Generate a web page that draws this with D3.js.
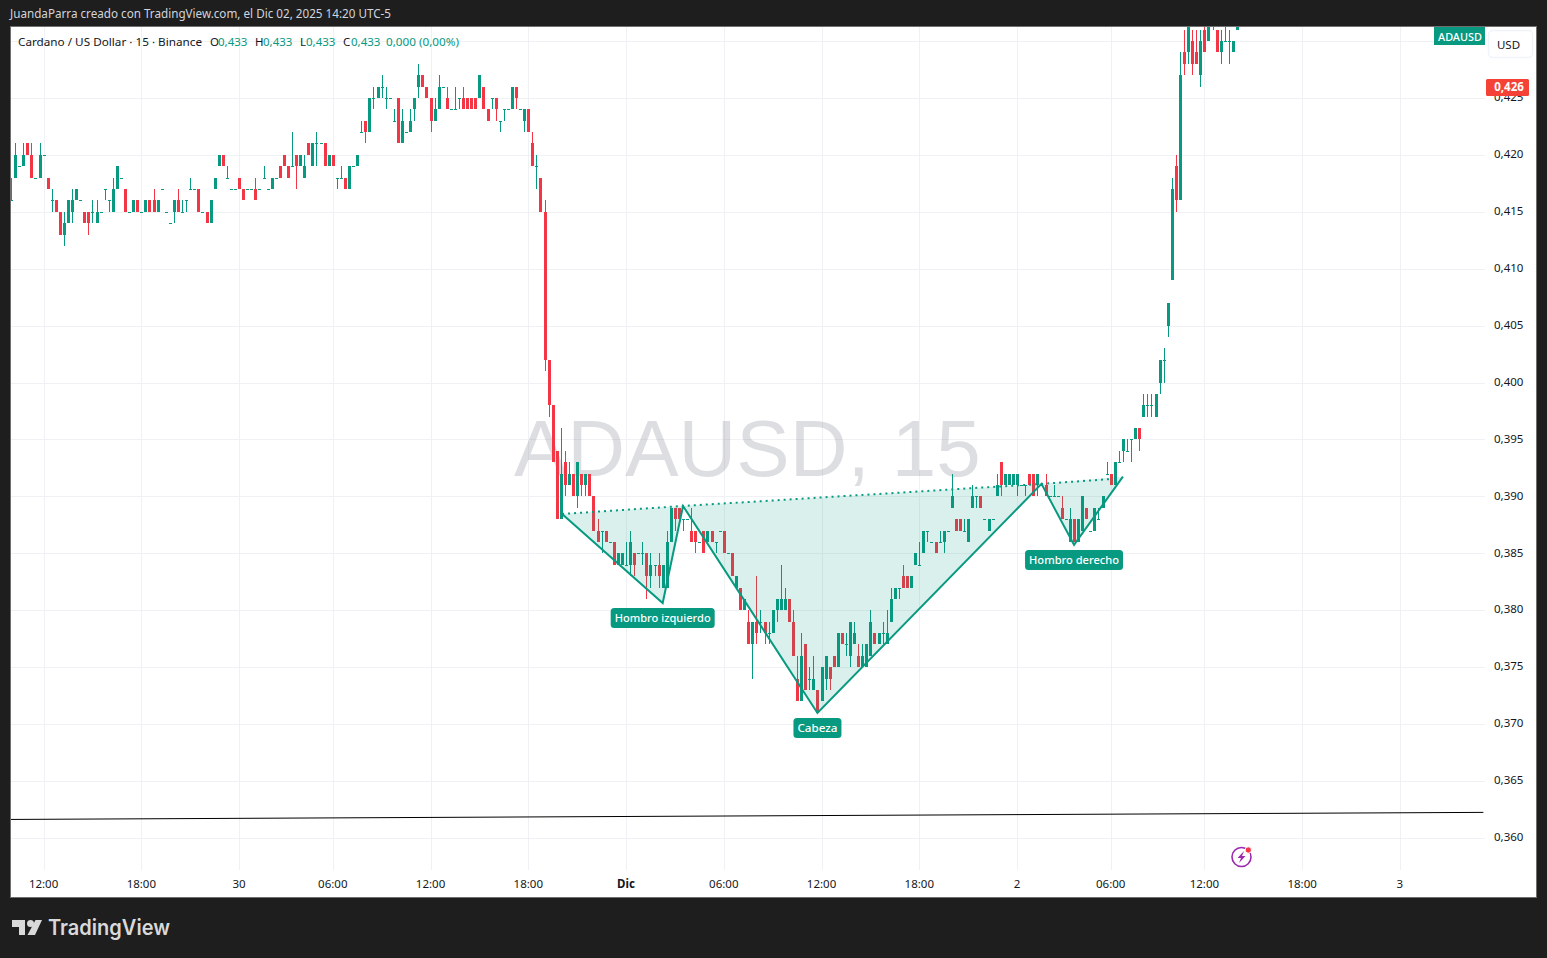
<!DOCTYPE html>
<html><head><meta charset="utf-8">
<script src="https://cdn.jsdelivr.net/npm/d3@7/dist/d3.min.js"></script>
<style>html,body{margin:0;padding:0;background:#1e1e1e;overflow:hidden}svg{display:block}text{font-family:"Noto Sans",sans-serif}</style>
</head><body><svg id="c" width="1547" height="958"></svg>
<script>
// Prices in thousandths of a dollar, one entry per 15-minute bar
const opens=[416,418,419,419,421,420,418,418,420,418,416,416,415,413,414,415,416,416,415,415,
415,414,415,417,416,415,417,418,417,415,415,416,415,415,416,416,415,417,415,414,
415,416,415,416,417,417,417,415,415,414,417,419,420,418,417,417,418,417,417,417,
417,417,418,417,417,418,419,420,419,419,420,419,418,421,419,421,421,421,419,420,
418,418,418,417,419,419,422,423,422,425,425,426,425,425,423,425,421,422,422,424,
426,427,426,425,423,424,426,425,424,424,425,425,425,425,425,425,426,424,425,425,
423,424,424,424,426,424,423,424,421,419,418,415,402,398,394,388,393,391,392,390,
392,391,392,390,387,387,387,386,386,384,384,384,384,385,385,385,385,383,384,384,
382,382,386,389,389,388,388,387,387,386,387,386,387,386,387,387,385,385,382,382,
380,379,377,379,379,379,378,378,380,380,380,381,379,374,372,377,374,373,373,372,
374,375,376,375,378,377,376,377,376,375,375,376,378,377,378,377,379,381,382,383,
383,382,384,384,385,387,386,386,386,386,387,389,388,388,387,386,389,390,390,388,
387,388,390,393,391,391,391,391,391,391,392,392,391,391,391,390,390,390,389,388,
386,388,386,387,389,387,387,388,389,392,392,391,393,394,394,395,395,396,397,398,
398,397,400,402,405,409,419,416,429,429,430,429,427,431,430,433,431,429,430,430,
429,431];
const highs=[418,421,419,421,421,421,418,421,420,418,417,416,415,415,416,417,417,416,415,415,
416,416,415,417,416,418,419,418,417,415,416,416,415,416,416,417,416,417,415,414,
416,417,416,416,418,417,417,415,415,416,418,420,420,419,417,417,418,417,417,417,
418,417,419,417,418,418,419,420,419,422,420,420,420,421,421,422,421,421,420,420,
418,419,418,419,419,420,423,423,425,426,426,427,426,425,424,425,424,422,424,425,
428,427,426,425,425,427,426,426,424,426,425,426,425,425,425,427,426,424,425,425,
423,424,424,426,426,424,424,424,422,420,418,416,402,398,394,396,394,393,392,393,
392,392,392,390,388,387,387,386,386,385,385,386,387,385,385,386,385,385,384,385,
384,387,389,389,389,388,388,389,387,386,387,387,387,386,387,387,385,385,383,382,
381,380,379,383,380,379,379,380,381,384,382,381,380,376,378,377,375,376,373,375,
376,375,376,378,378,378,379,379,377,377,377,380,378,378,379,380,382,382,382,384,
383,383,385,386,387,387,386,386,387,387,387,392,388,388,388,388,391,390,390,388,
388,388,392,393,392,392,392,392,391,391,392,392,392,391,392,390,391,390,390,388,
389,388,388,390,389,387,389,389,390,393,392,393,394,395,395,395,396,396,399,399,
399,399,402,403,407,418,420,429,431,432,431,431,431,432,432,433,431,431,432,431,
430,433];
const lows=[416,418,419,419,420,418,418,418,420,417,415,415,413,412,414,414,416,416,414,413,
414,414,415,416,415,415,417,418,415,415,415,415,415,415,415,415,415,417,415,414,
414,415,415,415,417,417,415,415,414,414,417,419,419,418,417,417,417,416,417,417,
416,417,418,417,417,418,418,419,418,419,417,419,418,420,419,419,421,419,419,419,
417,418,417,417,419,419,422,421,422,424,425,425,424,425,423,421,421,422,422,423,
425,426,425,422,423,424,426,424,424,424,424,424,424,424,424,425,424,423,424,423,
422,423,424,424,424,424,422,422,419,417,415,401,397,393,388,388,390,391,390,389,
390,390,390,387,386,385,386,386,384,384,384,384,383,383,385,384,381,382,383,382,
382,382,386,387,388,387,388,386,385,386,385,386,386,385,387,385,385,383,382,380,
380,377,374,377,378,377,377,378,379,380,380,379,376,372,372,373,373,373,371,372,
373,373,375,375,377,376,375,377,375,375,375,376,377,377,377,377,379,381,381,382,
382,382,384,384,385,386,386,385,386,385,387,389,387,387,387,386,389,389,389,388,
387,388,390,390,391,391,391,390,391,390,391,390,390,391,390,390,390,390,388,388,
386,386,386,387,388,387,387,388,389,392,391,391,393,393,394,393,395,394,397,397,
397,397,399,400,404,409,415,416,427,428,427,428,426,429,430,431,429,428,430,428,
429,431];
const closes=[416,420,419,420,420,418,418,420,420,417,416,415,413,414,416,416,417,416,414,414,
415,415,415,417,416,417,419,418,415,415,416,415,415,416,415,415,416,417,415,414,
416,415,415,416,417,417,415,415,414,416,418,420,419,418,417,417,417,416,417,417,
416,417,418,417,418,418,418,419,418,419,419,420,419,420,421,421,421,419,420,419,
418,418,417,419,419,420,422,422,425,425,426,426,425,425,423,421,423,422,423,425,
427,426,425,423,424,426,426,424,424,424,425,424,424,424,424,427,424,423,425,424,
423,424,424,426,425,424,424,422,419,419,415,402,398,393,388,392,391,392,390,393,
391,392,390,387,386,387,386,386,384,385,385,384,386,384,385,385,383,384,384,383,
384,386,389,388,388,388,388,386,386,386,385,387,386,386,387,385,385,383,383,380,
381,377,379,378,379,378,378,380,381,381,381,379,376,372,376,373,374,374,371,375,
376,374,375,378,377,377,379,378,375,376,377,379,377,378,378,378,381,382,382,382,
382,383,385,384,387,387,386,385,386,387,387,390,387,387,387,388,390,390,389,388,
388,388,391,391,392,392,392,392,391,391,391,390,392,391,390,390,390,390,388,388,
388,386,388,390,388,387,389,388,390,392,391,393,393,395,394,395,396,395,398,398,
398,399,402,402,407,417,416,427,428,432,428,428,430,429,432,432,429,430,430,430,
430,433];

const priceTicks=[0.425,0.42,0.415,0.41,0.405,0.4,0.395,0.39,0.385,0.38,0.375,0.37,0.365,0.36];
const gridPrices=[0.43,...priceTicks];
const timeTickBars=[8,32,56,79,103,127,151,175,199,223,247,270,293,317,341];
const timeTickLabels=["12:00","18:00","30","06:00","12:00","18:00","Dic","06:00","12:00","18:00","2","06:00","12:00","18:00","3"];
// Head-and-shoulders drawing anchors: [bar, price]
const patternBars=[135.3,160,165,198,253,261,273];
const patternPrices=[0.38846,0.38064,0.38916,0.37098,0.3911,0.38574,0.39174];
const necklineEndBar=270.5, necklineEndPrice=0.39154;
const patternLabels=[[1,"Hombro izquierdo"],[3,"Cabeza"],[5,"Hombro derecho"]];
const blackLineBars=[-0.2,361.5];
const blackLinePrices=[0.36163,0.36225];
const lastPrice=0.426;

const GREEN="#089981",RED="#F23645",GRID="#f0f1f4",TEXT="#131722";
const L=11,R=1485,T=27,B=897,AXB=870;
const labelW={"Hombro izquierdo":[96,104],"Cabeza":[40,48],"Hombro derecho":[90,98]};
const x=d3.scaleLinear().domain([0,1]).range([11,15.073]);
const y=d3.scaleLinear().domain([0.36,0.43]).range([838,41]);
const num=v=>v.toFixed(3).replace(".",",");
const svg=d3.select("#c");

// frame
svg.append("rect").attr("x",10.5).attr("y",26.5).attr("width",1526).attr("height",871).attr("fill","#fff").attr("stroke","#6f6f6f");
svg.append("text").attr("x",10).attr("y",18).attr("fill","#d1d4dc").attr("font-size",12)
  .attr("textLength",381).attr("lengthAdjust","spacingAndGlyphs")
  .text("JuandaParra creado con TradingView.com, el Dic 02, 2025 14:20 UTC-5");

// clip
const defs=svg.append("defs");
defs.append("clipPath").attr("id","pane").append("rect").attr("x",L).attr("y",T).attr("width",R-L).attr("height",B-T);
const pane=svg.append("g").attr("clip-path","url(#pane)");

// grid
pane.append("g").selectAll("line").data(gridPrices).join("line")
  .attr("x1",L).attr("x2",R).attr("y1",d=>Math.round(y(d))+.5).attr("y2",d=>Math.round(y(d))+.5)
  .attr("stroke",GRID);
pane.append("g").selectAll("line").data(timeTickBars).join("line")
  .attr("y1",T).attr("y2",AXB).attr("x1",d=>Math.round(x(d))+.5).attr("x2",d=>Math.round(x(d))+.5)
  .attr("stroke",GRID);

// watermark
pane.append("text").attr("x",514).attr("y",476).attr("font-size",80)
  .style("font-family","'Liberation Sans',Arial,sans-serif").attr("fill","rgba(120,123,134,0.25)").text("ADAUSD, 15");

// candles
const idx=d3.range(opens.length);
const px=v=>y(v/1000);
const col=i=>closes[i]>=opens[i]?GREEN:RED;
const cg=pane.append("g").attr("shape-rendering","crispEdges");
cg.selectAll(".w").data(idx).join("rect").attr("class","w")
  .attr("x",i=>Math.round(x(i))).attr("width",1)
  .attr("y",i=>Math.round(px(highs[i])))
  .attr("height",i=>Math.max(1,Math.round(px(lows[i]))-Math.round(px(highs[i]))))
  .attr("fill",col);
cg.selectAll(".b").data(idx).join("rect").attr("class","b")
  .attr("x",i=>Math.round(x(i))-1).attr("width",3)
  .attr("y",i=>Math.round(px(Math.max(opens[i],closes[i]))))
  .attr("height",i=>Math.max(1,Math.round(px(Math.min(opens[i],closes[i])))-Math.round(px(Math.max(opens[i],closes[i])))))
  .attr("fill",col);

// black trend line
pane.append("line").attr("x1",x(blackLineBars[0])).attr("x2",x(blackLineBars[1]))
  .attr("y1",y(blackLinePrices[0])).attr("y2",y(blackLinePrices[1])).attr("stroke","#000").attr("stroke-width",1);

// pattern
const P=patternBars.map((b,i)=>[x(b),y(patternPrices[i])]);
const poly=[[0,1,2],[2,3,4],[4,5,6]];
pane.append("g").selectAll("polygon").data(poly).join("polygon")
  .attr("points",d=>d.map(i=>P[i].join(",")).join(" "))
  .attr("fill","rgba(8,153,129,0.15)");
pane.append("path").attr("d",d3.line()(P)).attr("fill","none").attr("stroke",GREEN).attr("stroke-width",2);
pane.append("path").attr("d",d3.line()([P[0],P[2],P[4],[x(necklineEndBar),y(necklineEndPrice)]]))
  .attr("fill","none").attr("stroke",GREEN).attr("stroke-width",2).attr("stroke-dasharray","2 4");
patternLabels.forEach(([k,t])=>{
  const g=pane.append("g");
  const [tw,bw]=labelW[t];
  g.append("rect").attr("x",P[k][0]-bw/2).attr("y",P[k][1]+5).attr("width",bw).attr("height",20).attr("rx",3.5).attr("fill",GREEN);
  g.append("text").attr("x",P[k][0]-tw/2).attr("y",P[k][1]+19.3)
    .attr("font-size",11.5).attr("font-weight",500).attr("fill","#fff")
    .attr("textLength",tw).attr("lengthAdjust","spacingAndGlyphs").text(t);
});

// price axis (the 0,425 tick sits behind the last-price tag, as in the terminal)
svg.append("g").selectAll("text").data(priceTicks).join("text")
  .attr("x",1494).attr("y",d=>y(d)+3.2).attr("font-size",11.5).attr("fill",TEXT).text(num);
// time axis
svg.append("g").selectAll("text").data(timeTickBars).join("text")
  .attr("x",d=>x(d)).attr("y",887.5).attr("text-anchor","middle").attr("font-size",11.5)
  .attr("font-weight",(d,i)=>timeTickLabels[i]==="Dic"?700:400).attr("fill",TEXT)
  .text((d,i)=>timeTickLabels[i]);

// legend
const legend=svg.append("g").attr("font-size",11.5);
legend.append("text").attr("x",18).attr("y",46).attr("fill",TEXT).attr("textLength",184).attr("lengthAdjust","spacingAndGlyphs").text("Cardano / US Dollar · 15 · Binance");
[[210,"O"],[255,"H"],[300,"L"],[343,"C"]].forEach(([a,t],i)=>{
  legend.append("text").attr("x",a).attr("y",46).attr("fill",TEXT).text(t);
  legend.append("text").attr("x",[218,263,306,351][i]).attr("y",46).attr("fill",GREEN).text("0,433");
});
legend.append("text").attr("x",386).attr("y",46).attr("fill",GREEN).attr("textLength",73).attr("lengthAdjust","spacingAndGlyphs").text("0,000 (0,00%)");

// price tags
svg.append("rect").attr("x",1434).attr("y",27).attr("width",51).attr("height",18).attr("fill",GREEN);
svg.append("text").attr("x",1438).attr("y",41).attr("font-size",11.5).attr("font-weight",500).attr("fill","#fff")
  .attr("textLength",44).attr("lengthAdjust","spacingAndGlyphs").text("ADAUSD");
svg.append("rect").attr("x",1488.5).attr("y",30.5).attr("width",44).attr("height",27).attr("rx",4).attr("fill","#fff").attr("stroke","#f0f3fa").attr("stroke-width",1.5);
svg.append("text").attr("x",1508.5).attr("y",48.5).attr("text-anchor","middle").attr("font-size",11.5).attr("fill",TEXT).text("USD");
svg.append("rect").attr("x",1486).attr("y",Math.round(y(lastPrice))-8).attr("width",43).attr("height",17).attr("rx",1.5).attr("fill","#f44336");
svg.append("text").attr("x",1509).attr("y",y(lastPrice)+4.5).attr("text-anchor","middle").attr("font-size",11.5).attr("font-weight",700).attr("fill","#fff").text(num(lastPrice));

// bolt icon
const ic=svg.append("g").attr("transform","translate(1241.5,857)");
ic.append("circle").attr("r",9.5).attr("fill","none").attr("stroke","#9c27b0").attr("stroke-width",1.6);
ic.append("path").attr("d","M2.5,-6 L-4,1 L-0.5,1 L-2.5,6 L4,-1 L0.5,-1 Z").attr("fill","#9c27b0");
ic.append("circle").attr("cx",6.8).attr("cy",-7).attr("r",3.2).attr("fill","#f23645").attr("stroke","#fff").attr("stroke-width",1);

// footer logo
const logo=svg.append("g").attr("fill","#d9d9d9");
logo.append("path").attr("d","M12,920 H25 V935 H19 V927 H12 Z");
logo.append("circle").attr("cx",30.5).attr("cy",923.5).attr("r",3.5);
logo.append("path").attr("d","M35.5,920 H42 L35,935 H27.5 Z");
logo.append("text").attr("x",48).attr("y",935).attr("font-size",21).attr("font-weight",600)
  .style("font-family","Inter,sans-serif")
  .attr("textLength",122).attr("lengthAdjust","spacingAndGlyphs").text("TradingView");
</script></body></html>
